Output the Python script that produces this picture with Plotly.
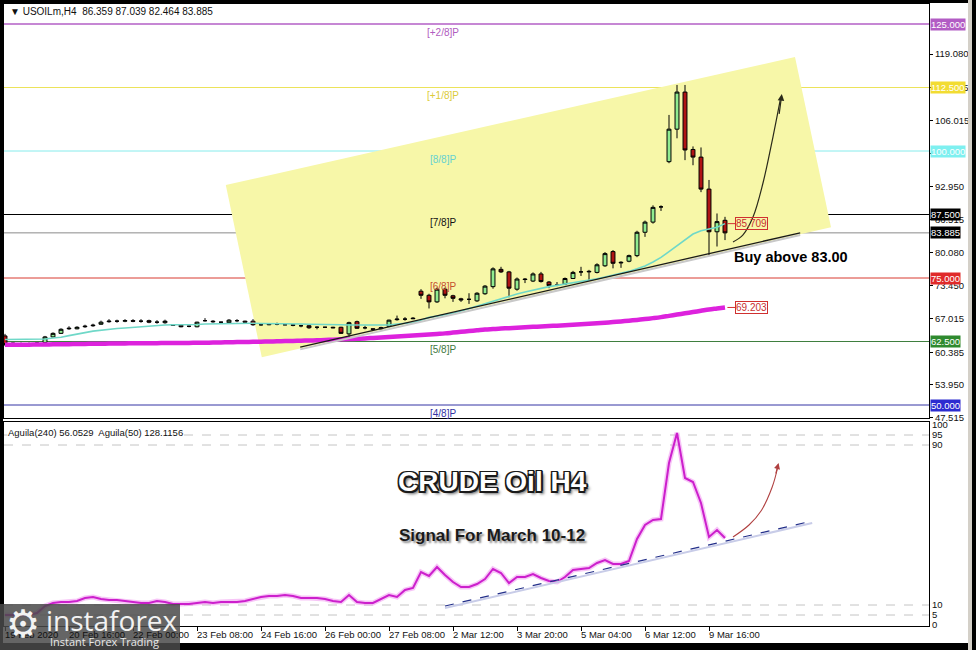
import plotly.graph_objects as go

# ---------------- data ----------------
bar_index = list(range(91))

opens = [63.6, 62.2, 62.0, 62.1, 62.1, 62.3, 63.4, 64.1, 65.0, 65.0,
         65.4, 65.6, 65.9, 66.4, 66.5, 66.5, 66.6, 66.5, 66.6, 66.3,
         66.2, 65.8, 65.7, 65.5, 65.4, 66.6, 66.5, 66.3, 66.2, 66.6,
         66.5, 66.5, 65.8, 65.8, 65.9, 65.8, 65.8, 65.6, 65.6, 65.3,
         65.3, 65.3, 65.3, 64.0, 66.4, 65.2, 65.0, 65.0, 65.5, 66.8,
         66.9, 67.1, 72.4, 71.6, 70.3, 72.8, 71.5, 70.9, 70.8, 70.5,
         71.9, 73.3, 76.7, 76.2, 72.8, 74.8, 74.4, 75.8, 74.2, 73.6,
         73.8, 74.9, 76.2, 76.2, 76.1, 77.4, 80.2, 78.1, 78.3, 79.4,
         84.0, 86.0, 89.0, 97.9, 104.3, 111.6, 100.3, 98.8, 92.5, 84.1,
         86.359]
highs = [64.0, 62.3, 62.3, 62.3, 62.4, 63.6, 64.3, 65.1, 65.5, 65.5,
         65.8, 66.0, 66.6, 66.9, 66.8, 66.9, 66.9, 66.9, 66.8, 66.7,
         66.8, 65.9, 65.8, 65.6, 66.4, 67.1, 66.7, 66.4, 66.9, 66.9,
         66.6, 66.9, 66.0, 66.1, 66.2, 65.9, 65.9, 65.8, 65.7, 65.5,
         65.4, 65.4, 65.4, 66.4, 66.6, 65.6, 65.1, 65.4, 66.8, 67.6,
         67.3, 67.3, 72.8, 71.9, 73.1, 73.1, 71.7, 71.1, 72.0, 72.2,
         73.6, 77.1, 77.2, 76.4, 75.1, 75.0, 76.1, 76.2, 74.4, 74.2,
         75.1, 76.4, 77.2, 76.6, 77.9, 80.1, 80.5, 78.3, 79.6, 84.3,
         86.3, 89.3, 89.3, 107.1, 113.0, 113.0, 100.9, 100.7, 94.3, 87.7,
         87.039]
lows = [61.6, 61.9, 61.9, 61.9, 62.0, 62.0, 63.3, 64.0, 64.8, 64.9,
        65.2, 65.4, 65.8, 66.2, 66.2, 66.3, 66.3, 66.2, 66.1, 66.0,
        66.0, 65.6, 65.3, 65.3, 65.3, 66.4, 66.2, 66.2, 66.1, 66.3,
        66.2, 65.6, 65.6, 65.7, 65.7, 65.7, 65.5, 65.3, 65.0, 64.9,
        65.2, 65.1, 64.0, 63.4, 65.0, 64.9, 64.8, 64.9, 65.4, 66.6,
        66.6, 66.9, 70.9, 69.0, 70.1, 71.0, 70.3, 70.3, 69.9, 70.3,
        71.7, 72.9, 76.0, 71.2, 72.5, 74.0, 74.2, 74.1, 73.0, 73.4,
        73.6, 74.8, 75.4, 74.5, 75.9, 77.2, 76.9, 77.0, 78.1, 79.1,
        83.1, 85.7, 88.2, 97.6, 102.5, 98.2, 97.2, 91.9, 79.5, 81.2,
        82.464]
closes = [61.9, 62.0, 62.1, 62.1, 62.2, 63.4, 64.1, 64.9, 65.1, 65.3,
          65.5, 65.7, 66.3, 66.5, 66.5, 66.6, 66.5, 66.5, 66.3, 66.3,
          66.5, 65.7, 65.4, 65.5, 66.3, 66.6, 66.4, 66.3, 66.7, 66.6,
          66.3, 65.8, 65.8, 65.9, 65.9, 65.8, 65.7, 65.6, 65.2, 65.3,
          65.3, 65.2, 64.1, 66.2, 65.1, 65.2, 64.9, 65.2, 66.7, 66.9,
          66.9, 67.0, 71.6, 70.3, 72.8, 71.6, 71.0, 70.7, 70.8, 72.0,
          73.4, 76.8, 76.2, 73.0, 74.8, 74.7, 75.8, 74.3, 73.5, 73.6,
          74.9, 76.1, 76.2, 76.3, 77.6, 79.8, 77.9, 78.0, 79.4, 84.0,
          86.0, 88.9, 89.0, 104.3, 111.6, 100.2, 98.8, 92.5, 84.1, 86.1,
          83.885]

ma_fast = [62.9, 62.9, 62.9, 62.9, 62.95, 63.0, 63.2, 63.35, 63.65, 64.0,
           64.25, 64.55, 64.75, 64.95, 65.05, 65.15, 65.3, 65.4, 65.55, 65.7,
           65.75, 65.8, 65.8, 65.8, 65.85, 65.95, 66.0, 66.05, 66.05, 66.1,
           66.1, 66.1, 66.05, 66.05, 66.05, 66.0, 66.0, 65.95, 65.9, 65.9,
           65.85, 65.85, 65.8, 65.75, 65.75, 65.7, 65.7, 65.7, 65.75, 65.95,
           66.1, 66.2, 66.7, 67.25, 67.5, 67.7, 68.05, 68.5, 69.0, 69.5,
           70.0, 70.5, 71.0, 71.45, 71.85, 72.25, 72.65, 72.95, 73.3, 73.55,
           73.8, 74.05, 74.3, 74.55, 74.85, 75.2, 75.55, 75.9, 76.3, 76.8,
           77.35, 78.15, 79.05, 80.2, 81.3, 82.5, 83.65, 84.3, 84.6, 85.0,
           85.7]
ma_slow = [61.85, 61.86, 61.87, 61.88, 61.9, 61.92, 61.94, 61.96, 61.98, 62.0,
           62.03, 62.05, 62.07, 62.09, 62.11, 62.13, 62.15, 62.16, 62.17, 62.18,
           62.19, 62.2, 62.21, 62.22, 62.24, 62.26, 62.29, 62.32, 62.35, 62.38,
           62.41, 62.44, 62.47, 62.5, 62.54, 62.58, 62.62, 62.66, 62.7, 62.74,
           62.8, 62.86, 62.92, 62.98, 63.04, 63.1, 63.2, 63.3, 63.4, 63.5,
           63.6, 63.7, 63.8, 63.9, 64.0, 64.1, 64.25, 64.4, 64.55, 64.7,
           64.85, 64.95, 65.05, 65.12, 65.2, 65.3, 65.38, 65.46, 65.54, 65.62,
           65.7, 65.8, 65.9, 66.0, 66.1, 66.2, 66.32, 66.45, 66.6, 66.75,
           66.92, 67.1, 67.3, 67.55, 67.8, 68.05, 68.3, 68.55, 68.8, 69.0,
           69.2]
aguila = [5, 5, 5, 5, 6, 9.5, 11, 11.5, 11.5, 12,
          13.5, 14, 13, 12.5, 12.5, 12, 11.5, 11, 11, 12,
          11.5, 10.5, 10.5, 10.5, 11, 11.5, 11, 11.5, 11.5, 11.5,
          12, 13, 14, 14.5, 14.5, 15, 14.5, 13.5, 13.5, 13.5,
          13, 12, 11.5, 15, 11.5, 11, 11, 13, 15, 14,
          17.5, 18.5, 26.5, 24.5, 29, 25, 21.5, 19, 19, 20.5,
          23, 28, 26, 21, 24, 24, 25.5, 23.5, 22, 21.5,
          24, 27.5, 28, 28.5, 31, 32.5, 30.5, 30.5, 32, 43,
          50, 52.5, 53, 81, 96, 73.5, 71.5, 61, 44, 47.5,
          43.5]

x_tick_index = [0, 8, 16, 24, 32, 40, 48, 56, 64, 72, 80, 88]
x_tick_labels = ["19 Feb 2020", "20 Feb 16:00", "22 Feb 00:00", "23 Feb 08:00",
                 "24 Feb 16:00", "26 Feb 00:00", "27 Feb 08:00", "2 Mar 12:00",
                 "3 Mar 20:00", "5 Mar 04:00", "6 Mar 12:00", "9 Mar 16:00"]
price_ticks = [119.080, 112.545, 106.015, 99.485, 92.950, 86.515, 80.080,
               73.450, 67.015, 60.385, 53.950, 47.515]
ind_ticks = [0, 5, 10, 90, 95, 100]

levels = [125.0, 112.5, 100.0, 87.5, 75.0, 62.5, 50.0]
level_names = ["[+2/8]P", "[+1/8]P", "[8/8]P", "[7/8]P", "[6/8]P", "[5/8]P", "[4/8]P"]
level_line_colors = ["#b35fc6", "#ece35a", "#86ecec", "#000000", "#d83a30", "#3f7f3f", "#3434a4"]
level_text_colors = ["#b05cc0", "#dccb3a", "#66d2d2", "#111111", "#c4502e", "#3f7a3f", "#3434a4"]
level_box_colors = ["#b25cc4", "#f2dc32", "#7ef0f0", "#000000", "#e02a2a", "#2f8a2f", "#2c2cd0"]
current_price = 83.885

# drawn objects (chart annotations, in bar index / price units)
channel_x = [27.6, 98.75, 103.25, 32.1]
channel_y = [93.3, 118.5, 85.0, 59.4]
trend_x = [36.9, 99.4]
trend_y = [61.4, 83.9]
arrow_x = [91.0, 92.25, 93.5, 94.75, 96.0, 96.9]
arrow_y = [82.1, 83.5, 87.0, 93.7, 102.8, 110.0]
ind_trend_x = [55.0, 100.9]
ind_trend_y = [9.5, 52.0]
ind_arrow_x = [91.0, 93.0, 94.5, 95.9, 96.6]
ind_arrow_y = [44.0, 50.0, 57.0, 69.0, 79.0]

# ---------------- geometry ----------------
W, H = 976, 650
L, R, T, B = 4, 47, 4, 24
PW, PH = W - L - R, H - T - B


def pxx(x):
    return (x - L) / PW


def pyy(y):
    return (H - B - y) / PH


X_RANGE = [-0.125, 115.5]
Y_MAIN = [125 - 394 / 5.08, 125 + 20 / 5.08]
Y_IND = [-0.5, 101.5]

FONT = "Liberation Sans, Arial, sans-serif"
AX_SIZE = 9.5

fig = go.Figure()

# moving averages (behind candles)
fig.add_trace(go.Scatter(x=bar_index, y=ma_slow, mode="lines", line_shape="spline",
                         line=dict(color="#dd22dd", width=4.5), hoverinfo="skip",
                         showlegend=False, xaxis="x", yaxis="y"))
fig.add_trace(go.Scatter(x=bar_index, y=ma_fast, mode="lines",
                         line=dict(color="#6fd8c8", width=1.6), hoverinfo="skip",
                         showlegend=False, xaxis="x", yaxis="y"))
# trend line with shadow
fig.add_trace(go.Scatter(x=trend_x, y=[v - 0.45 for v in trend_y], mode="lines",
                         line=dict(color="#c8c8c8", width=2), hoverinfo="skip",
                         showlegend=False, xaxis="x", yaxis="y"))
fig.add_trace(go.Scatter(x=trend_x, y=trend_y, mode="lines",
                         line=dict(color="#1a1a1a", width=1.3), hoverinfo="skip",
                         showlegend=False, xaxis="x", yaxis="y"))
# candles
fig.add_trace(go.Candlestick(
    x=bar_index, open=opens, high=highs, low=lows, close=closes,
    increasing=dict(line=dict(color="#000000", width=1), fillcolor="#90ec90"),
    decreasing=dict(line=dict(color="#000000", width=1), fillcolor="#b01414"),
    whiskerwidth=0, hoverinfo="skip", showlegend=False, xaxis="x", yaxis="y"))
# curved arrow (main)
fig.add_trace(go.Scatter(x=arrow_x, y=arrow_y, mode="lines", line_shape="spline",
                         line=dict(color="#2a2a1a", width=1.2), hoverinfo="skip",
                         showlegend=False, xaxis="x", yaxis="y"))

# indicator
fig.add_trace(go.Scatter(x=bar_index, y=aguila, mode="lines",
                         line=dict(color="rgba(240,150,240,0.55)", width=5),
                         hoverinfo="skip", showlegend=False, xaxis="x2", yaxis="y2"))
fig.add_trace(go.Scatter(x=bar_index, y=aguila, mode="lines",
                         line=dict(color="#cc1fcc", width=2),
                         hoverinfo="skip", showlegend=False, xaxis="x2", yaxis="y2"))
fig.add_trace(go.Scatter(x=ind_trend_x, y=[v - 1.0 for v in ind_trend_y], mode="lines",
                         line=dict(color="#c8cce8", width=2), hoverinfo="skip",
                         showlegend=False, xaxis="x2", yaxis="y2"))
fig.add_trace(go.Scatter(x=ind_trend_x, y=ind_trend_y, mode="lines",
                         line=dict(color="#24308a", width=1.2, dash="dash"), hoverinfo="skip",
                         showlegend=False, xaxis="x2", yaxis="y2"))
fig.add_trace(go.Scatter(x=ind_arrow_x, y=ind_arrow_y, mode="lines", line_shape="spline",
                         line=dict(color="#b04040", width=1.1), hoverinfo="skip",
                         showlegend=False, xaxis="x2", yaxis="y2"))

shapes = []
annotations = []

# yellow channel rectangle
path = "M " + " L ".join(f"{cx},{cy}" for cx, cy in zip(channel_x, channel_y)) + " Z"
shapes.append(dict(type="path", path=path, xref="x", yref="y", fillcolor="#f7f7a8",
                   line=dict(width=0), layer="below"))

# murrey levels
for lv, nm, lc, tc, bc in zip(levels, level_names, level_line_colors, level_text_colors, level_box_colors):
    shapes.append(dict(type="line", xref="paper", x0=0, x1=1, yref="y", y0=lv, y1=lv,
                       line=dict(color=lc, width=1.6 if lv == 125.0 else 1), layer="below"))
    annotations.append(dict(x=54.75, y=lv, xref="x", yref="y", text=nm, showarrow=False,
                            yshift=-8, font=dict(family=FONT, size=10, color=tc)))
    annotations.append(dict(x=1, y=lv, xref="paper", yref="y", text=f"{lv:.3f}",
                            showarrow=False, xanchor="left", xshift=1, bgcolor=bc,
                            borderpad=0, font=dict(family=FONT, size=AX_SIZE, color="#ffffff")))

# current price line
shapes.append(dict(type="line", xref="paper", x0=0, x1=1, yref="y", y0=current_price,
                   y1=current_price, line=dict(color="#8a8a8a", width=1), layer="below"))
annotations.append(dict(x=1, y=current_price, xref="paper", yref="y", text=f"{current_price:.3f}",
                        showarrow=False, xanchor="left", xshift=1, bgcolor="#000000",
                        borderpad=0, font=dict(family=FONT, size=AX_SIZE, color="#ffffff")))

# MA value labels
for val in [ma_fast[-1], ma_slow[-1]]:
    shapes.append(dict(type="line", xref="x", yref="y", x0=90.3, x1=91.3, y0=val, y1=val,
                       line=dict(color="#d03030", width=1)))
annotations.append(dict(x=91.3, y=ma_fast[-1], xref="x", yref="y", text="85.709", showarrow=False,
                        xanchor="left", bordercolor="#d03030", borderwidth=1, borderpad=0,
                        font=dict(family=FONT, size=10, color="#c83030")))
annotations.append(dict(x=91.3, y=ma_slow[-1], xref="x", yref="y", text="69.203", showarrow=False,
                        xanchor="left", bordercolor="#d03030", borderwidth=1, borderpad=0,
                        font=dict(family=FONT, size=10, color="#c83030")))

# arrow heads
annotations.append(dict(x=97.1, y=111.2, ax=96.75, ay=107.0, xref="x", yref="y", axref="x", ayref="y",
                        text="", showarrow=True, arrowhead=2, arrowsize=1.1, arrowwidth=1.2,
                        arrowcolor="#2a2a1a"))
annotations.append(dict(x=96.7, y=81.0, ax=96.3, ay=75.0, xref="x2", yref="y2", axref="x2", ayref="y2",
                        text="", showarrow=True, arrowhead=2, arrowsize=1.1, arrowwidth=1.1,
                        arrowcolor="#b04040"))

annotations.append(dict(x=90.9, y=79.1, xref="x", yref="y", text="<b>Buy above 83.00</b>",
                        showarrow=False, xanchor="left",
                        font=dict(family=FONT, size=14.5, color="#000000")))

# indicator gridlines
for gv in [95, 90, 10, 5]:
    shapes.append(dict(type="line", xref="paper", x0=0, x1=1, yref="y2", y0=gv, y1=gv,
                       line=dict(color="#c4c4c4", width=1, dash="dash"), layer="below"))

annotations.append(dict(x=pxx(7), y=pyy(432), xref="paper", yref="paper",
                        text="Aguila(240) 56.0529  Aguila(50) 128.1156", showarrow=False,
                        xanchor="left", yanchor="middle", bgcolor="#ffffff", borderpad=0,
                        font=dict(family=FONT, size=9.5, color="#111111")))

annotations.append(dict(x=60.9, y=71.5, xref="x2", yref="y2", text="<b>CRUDE Oil H4</b>",
                        showarrow=False,
                        font=dict(family=FONT, size=28, color="#ffffff",
                                  shadow="-1.5px -1.5px 0 #1a1a1a, 1.5px -1.5px 0 #1a1a1a, -1.5px 1.5px 0 #1a1a1a, 1.5px 1.5px 0 #1a1a1a, 0 2px 0 #1a1a1a, 2px 0 0 #1a1a1a, 3px 3px 3px #666")))
annotations.append(dict(x=60.9, y=45.0, xref="x2", yref="y2", text="<b>Signal For March 10-12</b>",
                        showarrow=False,
                        font=dict(family=FONT, size=17, color="#1a1a1a",
                                  shadow="2px 2px 2px #8a8a8a")))

# header
annotations.append(dict(x=pxx(8), y=pyy(11), xref="paper", yref="paper",
                        text="▼ USOILm,H4  86.359 87.039 82.464 83.885", showarrow=False,
                        xanchor="left", yanchor="middle",
                        font=dict(family=FONT, size=10, color="#111111")))

# x-axis labels (start at the tick, like the terminal)
for tv, tl in zip(x_tick_index, x_tick_labels):
    annotations.append(dict(x=tv, y=pyy(634), xref="x2", yref="paper", text=tl,
                            showarrow=False, xanchor="left", yanchor="middle", xshift=-2,
                            font=dict(family=FONT, size=AX_SIZE, color="#111111")))

# outer frame
def prect(x0, y0, x1, y1, color, layer="above", opacity=1.0):
    shapes.append(dict(type="rect", xref="paper", yref="paper", x0=pxx(x0), x1=pxx(x1),
                       y0=pyy(y1), y1=pyy(y0), fillcolor=color, line=dict(width=0),
                       layer=layer, opacity=opacity))


prect(0, 0, 3, 650, "#000000")
prect(0, 0, 976, 3, "#000000")
prect(0, 643, 976, 650, "#000000")
prect(968, 0, 972, 650, "#d4d0c8")
prect(972, 0, 976, 650, "#000000")

# logo
prect(0, 604, 180, 650, "#4a4a4a", opacity=0.85)
annotations.append(dict(x=pxx(23), y=pyy(624), xref="paper", yref="paper", text="⚙",
                        showarrow=False, xanchor="center", yanchor="middle",
                        font=dict(family="DejaVu Sans", size=38, color="#f2f2f2")))
annotations.append(dict(x=pxx(44), y=pyy(620), xref="paper", yref="paper", text="instaforex",
                        showarrow=False, xanchor="left", yanchor="middle",
                        font=dict(family="Open Sans, sans-serif", size=28, color="#f2f2f2")))
annotations.append(dict(x=pxx(48), y=pyy(641), xref="paper", yref="paper", text="Instant Forex Trading",
                        showarrow=False, xanchor="left", yanchor="middle",
                        font=dict(family="Open Sans, sans-serif", size=11, color="#e8e8e8")))

axis_common = dict(showline=True, mirror=True, linecolor="#000000", linewidth=1,
                   showgrid=False, zeroline=False, fixedrange=True)

fig.update_layout(
    width=W, height=H,
    margin=dict(l=L, r=R, t=T, b=B, autoexpand=False),
    paper_bgcolor="#ffffff", plot_bgcolor="#ffffff",
    showlegend=False, hovermode=False, boxgap=0.3,
    shapes=shapes, annotations=annotations,
    xaxis=dict(domain=[0, 1], anchor="y", range=X_RANGE, showticklabels=False, ticks="",
               rangeslider=dict(visible=False), **axis_common),
    yaxis=dict(domain=[pyy(418), 1], anchor="x", side="right", range=Y_MAIN,
               tickvals=price_ticks, ticktext=[f"{v:.3f}" for v in price_ticks],
               ticks="outside", ticklen=3, tickcolor="#000000",
               tickfont=dict(family=FONT, size=AX_SIZE, color="#111111"), **axis_common),
    xaxis2=dict(domain=[0, 1], anchor="y2", range=X_RANGE, matches="x",
                tickvals=x_tick_index, showticklabels=False, ticks="outside", ticklen=4,
                tickcolor="#000000", **axis_common),
    yaxis2=dict(domain=[0, pyy(422)], anchor="x2", side="right", range=Y_IND,
                tickvals=ind_ticks, ticktext=[str(v) for v in ind_ticks], ticks="",
                tickfont=dict(family=FONT, size=AX_SIZE, color="#111111"), **axis_common),
)

fig.write_html("out.html", config={"displayModeBar": False},
               post_script="document.body.style.margin='0px';document.body.style.overflow='hidden';")
